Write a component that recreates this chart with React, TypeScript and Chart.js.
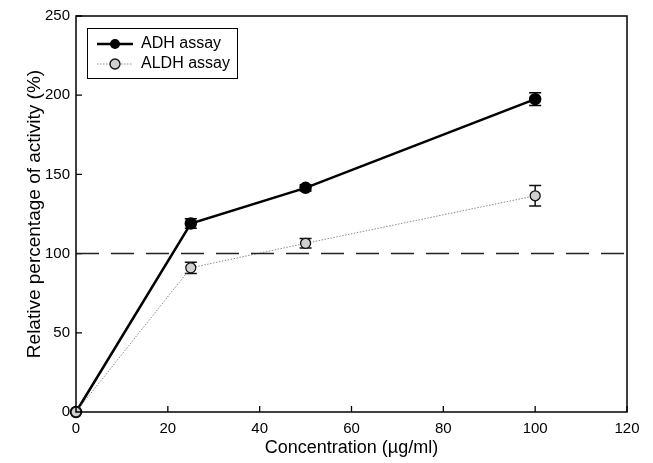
import React, { useEffect, useRef } from "react";
import { Chart, registerables } from "chart.js";

Chart.register(...registerables);

const concentrations = [0, 25, 50, 100];
const adhValues = [0, 119, 141.5, 197.5];
const adhErrors = [0, 3, 2, 4];
const aldhValues = [0, 91, 106.5, 136.5];
const aldhErrors = [0, 3.5, 3, 6.5];
const referenceLevel = 100;
const xTicks = [0, 20, 40, 60, 80, 100, 120];
const yTicks = [0, 50, 100, 150, 200, 250];
const seriesNames = ["ADH assay", "ALDH assay"];

const FONT = "'Liberation Sans', Arial, Helvetica, sans-serif";

export default function App() {
  const ref = useRef<HTMLCanvasElement | null>(null);

  useEffect(() => {
    const canvas = ref.current;
    if (!canvas) return;

    const framePlugin = {
      id: "frame",
      beforeDatasetsDraw(chart: any) {
        const { ctx, chartArea, scales } = chart;
        const x = scales.x;
        const y = scales.y;
        ctx.save();
        ctx.strokeStyle = "#000";
        ctx.lineWidth = 1.3;
        ctx.beginPath();
        xTicks.forEach((v) => {
          const px = x.getPixelForValue(v);
          ctx.moveTo(px, chartArea.bottom);
          ctx.lineTo(px, chartArea.bottom - 6);
        });
        yTicks.forEach((v) => {
          const py = y.getPixelForValue(v);
          ctx.moveTo(chartArea.left, py);
          ctx.lineTo(chartArea.left + 6, py);
        });
        ctx.stroke();
        const drawErr = (vals: number[], errs: number[], color: string, lw: number) => {
          ctx.strokeStyle = color;
          ctx.lineWidth = lw;
          ctx.beginPath();
          concentrations.forEach((c, i) => {
            if (!errs[i]) return;
            const px = x.getPixelForValue(c);
            const top = y.getPixelForValue(vals[i] + errs[i]);
            const bot = y.getPixelForValue(vals[i] - errs[i]);
            ctx.moveTo(px, top);
            ctx.lineTo(px, bot);
            ctx.moveTo(px - 6, top);
            ctx.lineTo(px + 6, top);
            ctx.moveTo(px - 6, bot);
            ctx.lineTo(px + 6, bot);
          });
          ctx.stroke();
        };
        drawErr(adhValues, adhErrors, "#000", 1.5);
        drawErr(aldhValues, aldhErrors, "#111", 1.5);
        ctx.restore();
      },
      afterDraw(chart: any) {
        const { ctx, chartArea } = chart;
        ctx.save();
        ctx.strokeStyle = "#000";
        ctx.lineWidth = 1.5;
        ctx.strokeRect(chartArea.left, chartArea.top, chartArea.right - chartArea.left, chartArea.bottom - chartArea.top);
        const bx = 87, by = 28, bw = 150, bh = 50;
        ctx.fillStyle = "#fff";
        ctx.fillRect(bx, by, bw, bh);
        ctx.lineWidth = 1;
        ctx.strokeRect(bx + 0.5, by + 0.5, bw, bh);
        const rows = [44, 64];
        ctx.strokeStyle = "#000";
        ctx.lineWidth = 2.5;
        ctx.setLineDash([]);
        ctx.beginPath();
        ctx.moveTo(97, rows[0]);
        ctx.lineTo(133, rows[0]);
        ctx.stroke();
        ctx.fillStyle = "#000";
        ctx.beginPath();
        ctx.arc(115, rows[0], 5, 0, Math.PI * 2);
        ctx.fill();
        ctx.strokeStyle = "#888";
        ctx.lineWidth = 1;
        ctx.setLineDash([1.5, 1.5]);
        ctx.beginPath();
        ctx.moveTo(97, rows[1]);
        ctx.lineTo(133, rows[1]);
        ctx.stroke();
        ctx.setLineDash([]);
        ctx.fillStyle = "#d0d0d0";
        ctx.strokeStyle = "#111";
        ctx.lineWidth = 1.3;
        ctx.beginPath();
        ctx.arc(115, rows[1], 5, 0, Math.PI * 2);
        ctx.fill();
        ctx.stroke();
        ctx.fillStyle = "#000";
        ctx.font = `16px ${FONT}`;
        ctx.textBaseline = "middle";
        ctx.textAlign = "left";
        ctx.fillText(seriesNames[0], 141, rows[0]);
        ctx.fillText(seriesNames[1], 141, rows[1]);
        ctx.restore();
      },
    };

    const chart = new Chart(canvas, {
      type: "scatter",
      data: {
        datasets: [
          {
            label: "ref",
            data: [
              { x: 0, y: referenceLevel },
              { x: 120, y: referenceLevel },
            ],
            showLine: true,
            borderColor: "#222",
            borderWidth: 1.5,
            borderDash: [23, 12],
            pointRadius: 0,
          },
          {
            label: seriesNames[1],
            data: concentrations.map((c, i) => ({ x: c, y: aldhValues[i] })),
            showLine: true,
            clip: false,
            borderColor: "#8a8a8a",
            borderWidth: 1,
            borderDash: [1.5, 1.5],
            pointRadius: 5,
            pointBackgroundColor: "#d0d0d0",
            pointBorderColor: "#111",
            pointBorderWidth: 1.3,
          },
          {
            label: seriesNames[0],
            data: concentrations.map((c, i) => ({ x: c, y: adhValues[i] })),
            showLine: true,
            clip: false,
            borderColor: "#000",
            borderWidth: 2.5,
            pointRadius: 5,
            pointBackgroundColor: "#000",
            pointBorderColor: "#000",
          },
        ],
      },
      options: {
        animation: false,
        responsive: false,
        devicePixelRatio: 1,
        layout: { padding: { top: 16, right: 26, left: 0, bottom: 0 } },
        plugins: { legend: { display: false }, tooltip: { enabled: false } },
        scales: {
          x: {
            type: "linear",
            min: 0,
            max: 120,
            afterFit: (s: any) => {
              s.height = 51;
            },
            afterBuildTicks: (s: any) => {
              s.ticks = xTicks.map((v) => ({ value: v }));
            },
            grid: { display: false, drawTicks: false },
            border: { display: false },
            ticks: { color: "#000", padding: 8, font: { family: FONT, size: 15 }, maxRotation: 0 },
            title: {
              display: true,
              text: "Concentration (µg/ml)",
              color: "#000",
              font: { family: FONT, size: 18 },
              padding: { top: 0, bottom: 4 },
            },
          },
          y: {
            type: "linear",
            min: 0,
            max: 250,
            afterFit: (s: any) => {
              s.width = 76;
            },
            afterBuildTicks: (s: any) => {
              s.ticks = yTicks.map((v) => ({ value: v }));
            },
            grid: { display: false, drawTicks: false },
            border: { display: false },
            ticks: { color: "#000", padding: 6, font: { family: FONT, size: 15 } },
            title: {
              display: true,
              text: "Relative percentage of activity (%)",
              color: "#000",
              font: { family: FONT, size: 19 },
              padding: { top: 23, bottom: 0 },
            },
          },
        },
      },
      plugins: [framePlugin],
    } as any);

    return () => chart.destroy();
  }, []);

  return (
    <div style={{ position: "absolute", left: 0, top: 0, width: 653, height: 463, background: "#fff" }}>
      <canvas ref={ref} width={653} height={463} style={{ display: "block" }} />
    </div>
  );
}
